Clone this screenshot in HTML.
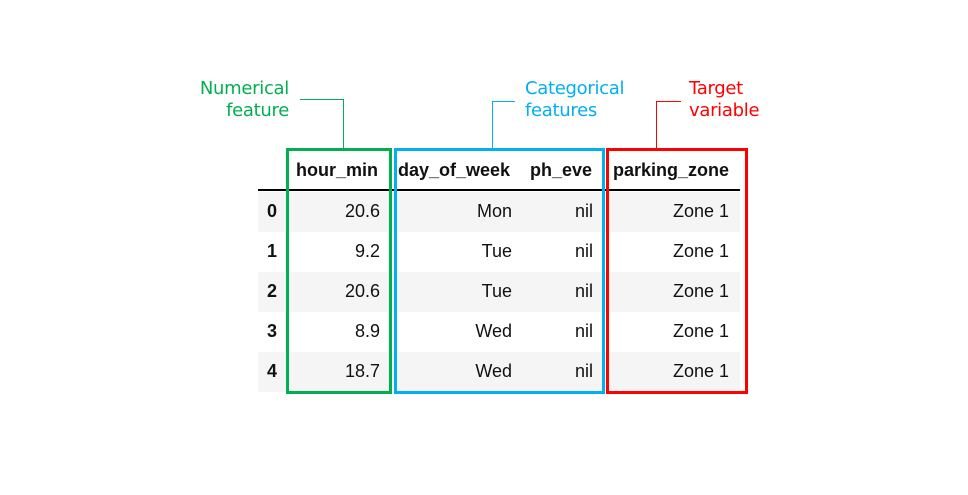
<!DOCTYPE html>
<html><head><meta charset="utf-8"><style>
body{margin:0;width:968px;height:495px;background:#fff;position:relative;overflow:hidden;font-family:"Liberation Sans",Arial,sans-serif;}
.a{position:absolute}
.t{position:absolute;font-size:18px;color:#111;line-height:20px;white-space:nowrap}
.h{font-weight:bold}
.r{text-align:right}
.ann{position:absolute;font-family:"DejaVu Sans","Liberation Sans",sans-serif;font-size:18px;line-height:22px;letter-spacing:-0.3px}
</style></head><body>
<div class="ann" style="left:150px;top:78px;width:139px;text-align:right;color:#00b050">Numerical<br>feature</div>
<div class="a" style="left:300px;top:99px;width:43px;height:49px;border-top:1px solid #00b050;border-right:1px solid #00b050"></div>
<div class="ann" style="left:525px;top:78px;color:#00b0f0">Categorical<br>features</div>
<div class="a" style="left:492px;top:101px;width:22px;height:47px;border-top:1px solid #00b0f0;border-left:1px solid #00b0f0"></div>
<div class="ann" style="left:689px;top:78px;color:#ff0000">Target<br>variable</div>
<div class="a" style="left:656px;top:101px;width:24px;height:47px;border-top:1px solid #ff0000;border-left:1px solid #ff0000"></div>

<div class="a" style="left:258px;top:192px;width:482px;height:40px;background:#f5f5f5"></div>
<div class="a" style="left:258px;top:272px;width:482px;height:40px;background:#f5f5f5"></div>
<div class="a" style="left:258px;top:352px;width:482px;height:40px;background:#f5f5f5"></div>
<div class="a" style="left:258px;top:189px;width:482px;height:2px;background:#000"></div>

<div class="t h" style="left:296px;top:160px">hour_min</div>
<div class="t h" style="left:398px;top:160px">day_of_week</div>
<div class="t h" style="left:530px;top:160px">ph_eve</div>
<div class="t h" style="left:613px;top:160px">parking_zone</div>

<div id="rows"></div>

<div class="a" style="left:286px;top:148px;width:100px;height:240px;border:3px solid #00b050"></div>
<div class="a" style="left:394px;top:148px;width:205px;height:240px;border:3px solid #00b0f0"></div>
<div class="a" style="left:606px;top:148px;width:136px;height:240px;border:3px solid #ff0000"></div>

<script>
const idx=["0","1","2","3","4"];
const hour=["20.6","9.2","20.6","8.9","18.7"];
const day=["Mon","Tue","Tue","Wed","Wed"];
const ph=["nil","nil","nil","nil","nil"];
const zone=["Zone 1","Zone 1","Zone 1","Zone 1","Zone 1"];
const c=document.getElementById('rows');
function cell(txt,right,top,bold,name){
  const d=document.createElement('div');
  d.className='t r'+(bold?' h':'');
  d.style.left=(right-150)+'px';d.style.width='150px';d.style.top=top+'px';
  d.textContent=txt;
  
  
  c.appendChild(d);
}
for(let i=0;i<idx.length;i++){
  const top=201+i*40;
  cell(idx[i],277,top,true,'row-index');
  cell(hour[i],380,top,false,'hour-min-cell');
  cell(day[i],512,top,false,'day-of-week-cell');
  cell(ph[i],593,top,false,'ph-eve-cell');
  cell(zone[i],729,top,false,'parking-zone-cell');
}
</script>
</body></html>
